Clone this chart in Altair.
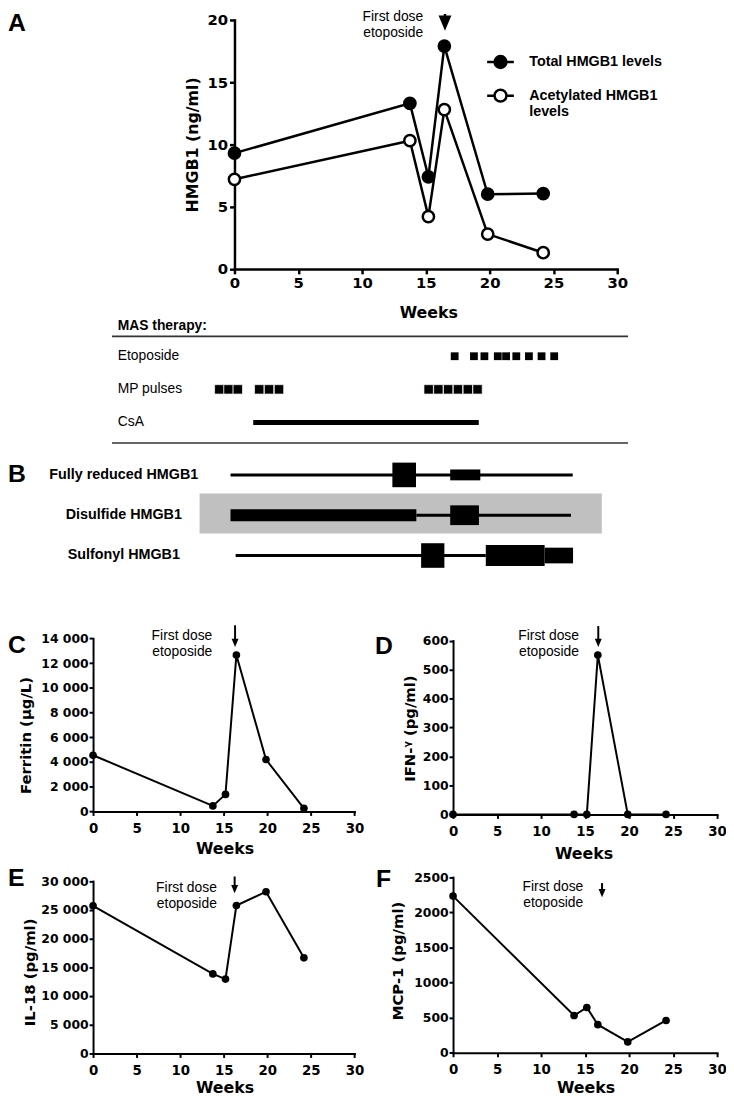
import altair as alt
import pandas as pd

W, H = 726, 1098
BOLD = "DejaVu Sans"
SANS = "Liberation Sans"
WEEK_TICKS = [0, 5, 10, 15, 20, 25, 30]

# ---------------- data ----------------
weeks = [0, 13.75, 15.2, 16.45, 19.85, 24.2]
hmgb1_total = [9.3, 13.3, 7.4, 17.9, 6.0, 6.05]
hmgb1_acetylated = [7.2, 10.3, 4.2, 12.8, 2.8, 1.3]
ferritin = [4550, 450, 1380, 12650, 4200, 250]
ifn_gamma = [0, 0, 0, 550, 0, 0]
il18 = [25700, 13850, 12950, 25750, 28150, 16650]
mcp1 = [2230, 530, 645, 400, 155, 460]
series_names = ["Total HMGB1 levels", "Acetylated HMGB1 levels"]

therapy_rows = ["Etoposide", "MP pulses", "CsA"]
etoposide_weeks = [17.26, 18.77, 19.59, 20.64, 21.29, 22.09, 23.08, 24.07, 25.06]
mp_pulse_weeks = [-1.19, -0.47, 0.26, 1.94, 2.71, 3.49,
                  15.22, 15.98, 16.75, 17.52, 18.29, 19.05]
csa_weeks = [1.47, 19.15]
table_weeks = [-9.6, 30.85]

redox_forms = ["Fully reduced HMGB1", "Disulfide HMGB1", "Sulfonyl HMGB1"]
redox_line_form = [0, 1, 2]
redox_line_start = [0, 54.3, 1.5]
redox_line_end = [100, 99.5, 74.6]
redox_block_form = [0, 0, 1, 1, 2, 2, 2]
redox_block_start = [47.3, 64.2, 0, 64.2, 55.7, 74.6, 91.8]
redox_block_end = [54.2, 73.0, 54.3, 72.6, 62.5, 91.8, 100.1]
redox_block_height = [0.61, 0.27, 0.30, 0.49, 0.61, 0.52, 0.39]
highlight_span = [-9.05, 108.5]

first_dose_label = "First dose\netoposide"
arrow_week = {"A": 16.5, "C": 16.3, "D": 16.5, "E": 16.25, "F": 16.93}
arrow_top = {"A": 20.48, "C": 15060, "D": 650, "E": 30800, "F": 2415}
arrow_head = {"A": 19.75, "C": 13640, "D": 592, "E": 28600, "F": 2273}
label_y = {"A": 20.2, "C": 14180, "D": 615, "E": 28790, "F": 2355}
label_dx = {"A": -22, "C": -23, "D": -19.5, "E": -18, "F": -19}

# ---------------- layout (pixels inside the canvas) ----------------
GEOM = {
    "A": (229, 616, 257.7, 6.0),
    "C": (86, 350.3, 806.3, 631.3),
    "D": (450, 717, 809.3, 633.5),
    "E": (86, 350.3, 1051, 876.7),
    "F": (450, 717, 1050.3, 872.7),
}
TRI = "M-1,-1.2L1,-1.2L0,1.2Z"
LEGEND_SYM = "M-2.25,0H-1M1,0H2.25M-1,0A1,1 0 1,0 1,0A1,1 0 1,0 -1,0Z"


def scales(key, ymax):
    x0, x1, yb, yt = GEOM[key]
    xs = alt.Scale(domain=[0, 30], range=[x0, x1], nice=False, zero=False)
    ys = alt.Scale(domain=[0, ymax], range=[yb, yt], nice=False, zero=False)
    return xs, ys


def week_axis(key, tx, ty, lsize, tsize, width, tick, pad):
    yb = GEOM[key][2]
    return alt.Axis(orient="bottom", offset=yb - H, values=WEEK_TICKS, title="Weeks",
                    titleX=tx, titleY=ty, titleBaseline="middle", titleAlign="center",
                    titleFontSize=tsize, labelFontSize=lsize, domainWidth=width,
                    tickWidth=width, tickSize=tick, labelPadding=pad)


def value_axis(key, title, values, tx, ty, lsize, tsize, width, tick, pad, expr):
    x0 = GEOM[key][0]
    return alt.Axis(orient="left", offset=-x0, values=values, title=title,
                    titleX=tx, titleY=ty, titleBaseline="middle", titleAlign="center",
                    titleAngle=270, titleFontSize=tsize, labelFontSize=lsize,
                    domainWidth=width, tickWidth=width, tickSize=tick, labelPadding=pad,
                    labelExpr=expr)


def annotation(key, xs, ys, ax, ay, head_size, shaft_w):
    dfa = pd.DataFrame({"week": [arrow_week[key]], "top": [arrow_top[key]],
                        "head": [arrow_head[key]], "ly": [label_y[key]],
                        "label": [first_dose_label]})
    X = alt.X("week:Q", scale=xs, axis=ax)
    shaft = alt.Chart(dfa).mark_rule(color="black", strokeWidth=shaft_w).encode(
        x=X, y=alt.Y("top:Q", scale=ys, axis=ay), y2="head:Q")
    head = alt.Chart(dfa).mark_point(shape=TRI, filled=True, color="black", size=head_size,
                                     opacity=1, strokeWidth=0).encode(
        x=X, y=alt.Y("head:Q", scale=ys, axis=ay))
    text = alt.Chart(dfa).mark_text(align="right", baseline="middle", dx=label_dx[key],
                                    font=SANS, fontSize=14, lineBreak="\n", lineHeight=16,
                                    color="black").encode(
        x=X, y=alt.Y("ly:Q", scale=ys, axis=ay), text="label:N")
    return [shaft, head, text]


PLAIN_EXPR = "format(datum.value, 'd')"
SPACE_EXPR = "replace(format(datum.value, ','), ',', ' ')"

# ---------------- panel A ----------------
xsA, ysA = scales("A", 20)
axA = week_axis("A", 425, 44.3, 15, 16, 2.5, 5, 2)
ayA = value_axis("A", "HMGB1 (ng/ml)", [0, 5, 10, 15, 20], -42, 131.85, 15, 16, 2.5, 5, 2,
                 PLAIN_EXPR)
dfA = pd.DataFrame({
    "week": weeks + weeks,
    "value": hmgb1_total + hmgb1_acetylated,
    "series": [series_names[0]] * len(weeks) + [series_names[1]] * len(weeks),
})
XA = alt.X("week:Q", scale=xsA, axis=axA)
YA = alt.Y("value:Q", scale=ysA, axis=ayA)
lineA = alt.Chart(dfA).mark_line(color="black", strokeWidth=2.5).encode(
    x=XA, y=YA, detail="series:N")
legendA = alt.Legend(
    title=None, orient="none", legendX=490.5, legendY=41.0, padding=0,
    symbolType=LEGEND_SYM, symbolSize=144, symbolStrokeColor="black", symbolStrokeWidth=2.5,
    labelFont=SANS, labelFontSize=14.5, labelFontWeight="bold", labelColor="black",
    labelOffset=21.5, labelLimit=400, rowPadding=11,
    labelExpr="datum.label == 'Acetylated HMGB1 levels' ? ['Acetylated HMGB1', 'levels'] : datum.label",
)
ptsA = alt.Chart(dfA).mark_point(shape="circle", filled=True, size=130, stroke="black",
                                 strokeWidth=2.5, opacity=1).encode(
    x=XA, y=YA,
    fill=alt.Fill("series:N", scale=alt.Scale(domain=series_names, range=["black", "white"]),
                  legend=legendA))
panelA = alt.layer(lineA, ptsA, *annotation("A", xsA, ysA, axA, ayA, 169, 2.5))

# ---------------- therapy table ----------------
tx = alt.Scale(domain=[0, 30], range=[229, 616], nice=False, zero=False)
ty = alt.Scale(domain=[0, 2], range=[346, 413], nice=False, zero=False)
rules_df = pd.DataFrame({"row": [-0.6, 2.62], "a": [table_weeks[0]] * 2, "b": [table_weeks[1]] * 2})
table_rules = alt.Chart(rules_df).mark_rule(color="#333333", strokeWidth=1.6).encode(
    x=alt.X("a:Q", scale=tx, axis=None), x2="b:Q", y=alt.Y("row:Q", scale=ty, axis=None))
lab_df = pd.DataFrame({"label": ["MAS therapy:"] + therapy_rows,
                       "row": [-0.9, 0, 1, 2],
                       "week": [table_weeks[0] + 0.45] * 4})
title_lab = alt.Chart(lab_df.iloc[:1]).mark_text(align="left", baseline="middle", font=SANS,
                                                 fontSize=14, fontWeight="bold", color="black").encode(
    x=alt.X("week:Q", scale=tx, axis=None), y=alt.Y("row:Q", scale=ty, axis=None), text="label:N")
row_labs = alt.Chart(lab_df.iloc[1:]).mark_text(align="left", baseline="middle", font=SANS,
                                                fontSize=14, color="black").encode(
    x=alt.X("week:Q", scale=tx, axis=None), y=alt.Y("row:Q", scale=ty, axis=None), text="label:N")
eto_df = pd.DataFrame({"week": etoposide_weeks, "row": [0] * len(etoposide_weeks)})
mp_df = pd.DataFrame({"week": mp_pulse_weeks, "row": [1] * len(mp_pulse_weeks)})
eto = alt.Chart(eto_df).mark_square(size=62, color="black", opacity=1).encode(
    x=alt.X("week:Q", scale=tx, axis=None), y=alt.Y("row:Q", scale=ty, axis=None))
mp = alt.Chart(mp_df).mark_square(size=90, color="black", opacity=1, stroke="white",
                                  strokeWidth=0.7).encode(
    x=alt.X("week:Q", scale=tx, axis=None), y=alt.Y("row:Q", scale=ty, axis=None))
csa_df = pd.DataFrame({"a": [csa_weeks[0]], "b": [csa_weeks[1]], "row": [2]})
csa = alt.Chart(csa_df).mark_rule(color="black", strokeWidth=5.3).encode(
    x=alt.X("a:Q", scale=tx, axis=None), x2="b:Q", y=alt.Y("row:Q", scale=ty, axis=None))
table = alt.layer(table_rules, title_lab, row_labs, eto, mp, csa)

# ---------------- panel B ----------------
bx = alt.Scale(domain=[0, 100], range=[225, 571], nice=False, zero=False)
by = alt.Scale(domain=[0, 2], range=[466, 547.5], nice=False, zero=False)
hl_df = pd.DataFrame({"a": [highlight_span[0]], "b": [highlight_span[1]], "y": [0.46], "y2": [1.455]})
hl = alt.Chart(hl_df).mark_rect(color="#c0c0c0").encode(
    x=alt.X("a:Q", scale=bx, axis=None), x2="b:Q", y=alt.Y("y:Q", scale=by, axis=None), y2="y2:Q")
bl_df = pd.DataFrame({"form": redox_line_form, "a": redox_line_start, "b": redox_line_end})
blines = alt.Chart(bl_df).mark_rule(color="black", strokeWidth=3).encode(
    x=alt.X("a:Q", scale=bx, axis=None), x2="b:Q", y=alt.Y("form:Q", scale=by, axis=None))
bb_df = pd.DataFrame({"form": redox_block_form, "a": redox_block_start, "b": redox_block_end,
                      "h": redox_block_height})
bb_df["y"] = bb_df["form"] - bb_df["h"] / 2
bb_df["y2"] = bb_df["form"] + bb_df["h"] / 2
bblocks = alt.Chart(bb_df).mark_rect(color="black").encode(
    x=alt.X("a:Q", scale=bx, axis=None), x2="b:Q", y=alt.Y("y:Q", scale=by, axis=None), y2="y2:Q")
blab_df = pd.DataFrame({"label": redox_forms, "form": [0, 1, 2], "x": [-31.2] * 3})
blabs = alt.Chart(blab_df).mark_text(align="center", baseline="middle", font=SANS, fontSize=14.5,
                                     fontWeight="bold", color="black").encode(
    x=alt.X("x:Q", scale=bx, axis=None), y=alt.Y("form:Q", scale=by, axis=None), text="label:N")
panelB = alt.layer(hl, blines, bblocks, blabs)


# ---------------- panels C-F ----------------
def small_panel(key, values, ymax, title, yvals, ytx, yty, xtx, xty, expr):
    xs, ys = scales(key, ymax)
    ax = week_axis(key, xtx, xty, 13.5, 16, 2, 4, 6)
    ay = value_axis(key, title, yvals, ytx, yty, 12.5, 15, 2, 4, 1, expr)
    df = pd.DataFrame({"week": weeks, "value": values})
    X = alt.X("week:Q", scale=xs, axis=ax)
    Y = alt.Y("value:Q", scale=ys, axis=ay)
    ln = alt.Chart(df).mark_line(color="black", strokeWidth=2).encode(x=X, y=Y)
    pt = alt.Chart(df).mark_circle(color="black", size=60, opacity=1).encode(x=X, y=Y)
    return alt.layer(ln, pt, *annotation(key, xs, ys, ax, ay, 49, 2))


panelC = small_panel("C", ferritin, 14000, "Ferritin (µg/L)", list(range(0, 14001, 2000)),
                     -68, 729, 219, 37.4, SPACE_EXPR)
panelD = small_panel("D", ifn_gamma, 600, "IFN-ᵞ (pg/ml)", list(range(0, 601, 100)),
                     -44.3, 722, 582, 39.4, PLAIN_EXPR)
panelE = small_panel("E", il18, 30000, "IL-18 (pg/ml)", list(range(0, 30001, 5000)),
                     -64, 968.5, 219, 34, SPACE_EXPR)
panelF = small_panel("F", mcp1, 2500, "MCP-1 (pg/ml)", list(range(0, 2501, 500)),
                     -56, 957, 584, 34.7, PLAIN_EXPR)

# ---------------- panel letters ----------------
let_df = pd.DataFrame({"letter": ["A", "B", "C", "D", "E", "F"],
                       "px": [0, 0, 0, 371, 0, 372],
                       "py": [9.5, 465.5, 638, 639, 873.5, 874.5]})
letters = alt.Chart(let_df).mark_text(align="left", baseline="middle", font=SANS, fontSize=25,
                                      fontWeight="bold", color="black").encode(
    x=alt.X("px:Q", scale=None, axis=None), y=alt.Y("py:Q", scale=None, axis=None), text="letter:N")

chart = alt.layer(panelA, table, panelB, panelC, panelD, panelE, panelF, letters).resolve_scale(
    x="independent", y="independent"
).properties(
    width=W, height=H, autosize=alt.AutoSizeParams(type="none"), padding=0, background="white"
).configure_view(strokeWidth=0).configure_axis(
    grid=False, domainColor="black", tickColor="black", labelColor="black", titleColor="black",
    labelFont=BOLD, titleFont=BOLD, labelFontWeight="bold", titleFontWeight="bold",
    labelFlush=False, labelOverlap=False, domainCap="square"
)

chart.save("out.html", embed_options={"renderer": "svg", "actions": False})
